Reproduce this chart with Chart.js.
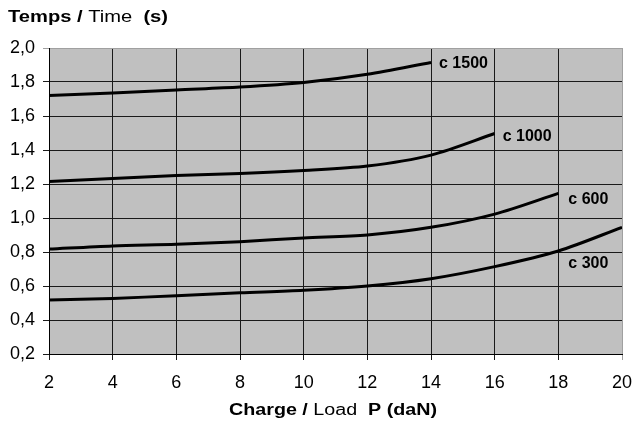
<!DOCTYPE html>
<html>
<head>
<meta charset="utf-8">
<script src="https://cdn.jsdelivr.net/npm/chart.js@4"></script>
<style>
  html, body { margin: 0; padding: 0; background: #fff; }
  #wrap { width: 632px; height: 425px; }
</style>
</head>
<body>
<div id="wrap"><canvas id="myChart"></canvas></div>
<script>
const loads = [2, 4, 6, 8, 10, 12, 14, 16, 18, 20];
const c1500 = [1.72, 1.735, 1.753, 1.77, 1.797, 1.845, 1.915];
const c1000 = [1.215, 1.233, 1.25, 1.262, 1.28, 1.306, 1.37, 1.497];
const c600 = [0.817, 0.836, 0.845, 0.861, 0.882, 0.9, 0.945, 1.023, 1.145];
const c300 = [0.518, 0.527, 0.543, 0.56, 0.575, 0.6, 0.643, 0.714, 0.806, 0.945];
const seriesNames = ['c 1500', 'c 1000', 'c 600', 'c 300'];

const FONT = "'Liberation Sans', Arial, sans-serif";

function pts(vals) {
    return vals.map((v, i) => ({ x: loads[i], y: v }));
}

// grey plot background
const plotBg = {
    id: 'plotBg',
    beforeDraw(chart) {
        const a = chart.chartArea, c = chart.ctx;
        c.save();
        c.fillStyle = '#c0c0c0';
        c.fillRect(a.left, a.top, a.right - a.left, a.bottom - a.top);
        c.restore();
    }
};

// mixed bold / normal text, squeezed or stretched to a given width
function drawParts(c, parts, x0, x1, y) {
    let total = 0;
    parts.forEach(p => { c.font = p[1] + ' 16px ' + FONT; total += c.measureText(p[0]).width; });
    const sx = (x1 - x0) / total;
    c.save();
    c.translate(x0, y);
    c.scale(sx, 1);
    let cx = 0;
    parts.forEach(p => {
        c.font = p[1] + ' 16px ' + FONT;
        c.fillText(p[0], cx, 0);
        cx += c.measureText(p[0]).width;
    });
    c.restore();
}

const labelsPlugin = {
    id: 'labelsPlugin',
    afterDraw(chart) {
        const c = chart.ctx;
        const xs = chart.scales.x, ys = chart.scales.y;
        c.save();
        c.fillStyle = '#000';
        c.textBaseline = 'middle';
        c.textAlign = 'left';
        drawParts(c, [['Temps /', 'bold'], [' Time  ', 'normal'], ['(s)', 'bold']], 8, 168, 18);
        drawParts(c, [['Charge /', 'bold'], [' Load  ', 'normal'], ['P (daN)', 'bold']], 229, 437, 411);

        // curve names, placed next to a point of each curve
        c.font = 'bold 16px ' + FONT;
        const spots = [
            [c1500, 6, 8, 1],
            [c1000, 7, 8, 3],
            [c600, 8, 10, 6],
            [c300, 8, 10, 13]
        ];
        spots.forEach((s, k) => {
            const px = xs.getPixelForValue(loads[s[1]]);
            const py = ys.getPixelForValue(s[0][s[1]]);
            c.fillText(seriesNames[k], px + s[2], py + s[3]);
        });
        c.restore();
    }
};

function lineSet(vals) {
    return {
        data: pts(vals),
        borderColor: '#000',
        borderWidth: 3,
        pointRadius: 0,
        tension: 0.3,
        fill: false
    };
}

const ctx = document.getElementById('myChart').getContext('2d');
const myChart = new Chart(ctx, {
    type: 'line',
    data: {
        datasets: [lineSet(c1500), lineSet(c1000), lineSet(c600), lineSet(c300)]
    },
    options: {
        responsive: true,
        maintainAspectRatio: false,
        animation: false,
        layout: { padding: { top: 48, right: 0, left: 0, bottom: 0 } },
        plugins: {
            legend: { display: false },
            tooltip: { enabled: false }
        },
        scales: {
            x: {
                type: 'linear',
                min: 2,
                max: 20,
                ticks: {
                    stepSize: 2,
                    color: '#000',
                    padding: 12,
                    font: { family: FONT, size: 18 }
                },
                grid: {
                    color: ctx => ctx.tick && ctx.tick.value === 20 ? '#a0a0a0' : '#1a1a1a',
                    lineWidth: 1,
                    tickLength: 6
                },
                border: { color: '#000', width: 1 },
                afterFit: s => { s.height = 71; s.paddingRight = 10; }
            },
            y: {
                min: 0.2,
                max: 2.0,
                ticks: {
                    stepSize: 0.2,
                    color: '#000',
                    padding: 8,
                    font: { family: FONT, size: 18 },
                    callback: v => v.toFixed(1).replace('.', ',')
                },
                grid: {
                    color: ctx => ctx.tick && Math.abs(ctx.tick.value - 2) < 1e-6 ? '#a0a0a0' : '#1a1a1a',
                    lineWidth: 1,
                    tickLength: 6
                },
                border: { color: '#000', width: 1 },
                afterFit: s => { s.width = 49; }
            }
        }
    },
    plugins: [plotBg, labelsPlugin]
});
</script>
</body>
</html>
